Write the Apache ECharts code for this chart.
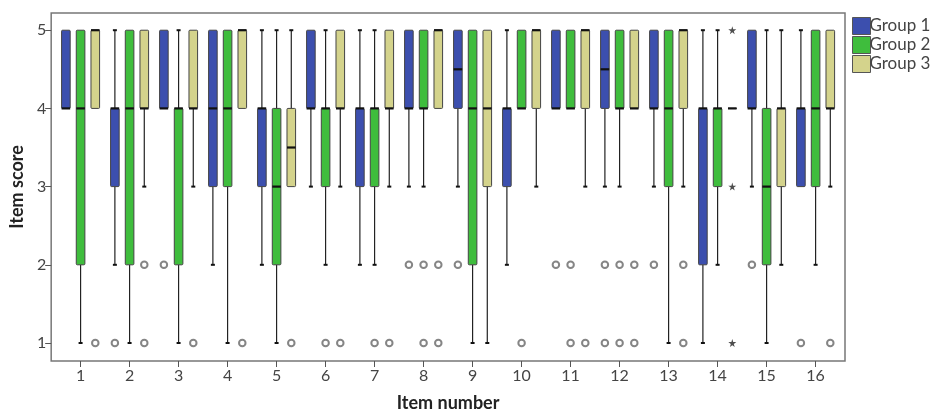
<!DOCTYPE html>
<html>
<head>
<meta charset="utf-8">
<script src="https://cdn.jsdelivr.net/npm/echarts@6/dist/echarts.min.js"></script>
<style>
  html, body { margin: 0; padding: 0; background: #fff; }
  #chart { width: 939px; height: 417px; }
</style>
</head>
<body>
<div id="chart"></div>
<script>
// item numbers on the x axis and score ticks on the y axis
const items = [1, 2, 3, 4, 5, 6, 7, 8, 9, 10, 11, 12, 13, 14, 15, 16]
const scoreTicks = [1, 2, 3, 4, 5]
const groupNames = ['Group 1', 'Group 2', 'Group 3']

// [min, Q1, median, Q3, max] for every item
const group1Box = [
  [4, 4, 4, 5, 5], [2, 3, 4, 4, 5], [4, 4, 4, 5, 5], [2, 3, 4, 5, 5],
  [2, 3, 4, 4, 5], [3, 4, 4, 5, 5], [2, 3, 4, 4, 5], [3, 4, 4, 5, 5],
  [3, 4, 4.5, 5, 5], [2, 3, 4, 4, 5], [4, 4, 4, 5, 5], [3, 4, 4.5, 5, 5],
  [3, 4, 4, 5, 5], [1, 2, 4, 4, 5], [3, 4, 4, 5, 5], [3, 3, 4, 4, 5]
]
const group2Box = [
  [1, 2, 4, 5, 5], [1, 2, 4, 5, 5], [1, 2, 4, 4, 5], [1, 3, 4, 5, 5],
  [1, 2, 3, 4, 5], [2, 3, 4, 4, 5], [2, 3, 4, 4, 5], [3, 4, 4, 5, 5],
  [1, 2, 4, 5, 5], [4, 4, 4, 5, 5], [4, 4, 4, 5, 5], [3, 4, 4, 5, 5],
  [1, 3, 4, 5, 5], [2, 3, 4, 4, 5], [1, 2, 3, 4, 5], [2, 3, 4, 5, 5]
]
const group3Box = [
  [4, 4, 5, 5, 5], [3, 4, 4, 5, 5], [3, 4, 4, 5, 5], [4, 4, 5, 5, 5],
  [3, 3, 3.5, 4, 5], [3, 4, 4, 5, 5], [3, 4, 4, 5, 5], [4, 4, 5, 5, 5],
  [1, 3, 4, 5, 5], [3, 4, 5, 5, 5], [3, 4, 5, 5, 5], [4, 4, 4, 5, 5],
  [3, 4, 5, 5, 5], [4, 4, 4, 4, 4], [2, 3, 4, 4, 5], [3, 4, 4, 5, 5]
]

// outliers [item, score]
const group1Out = [[2, 1], [3, 2], [8, 2], [9, 2], [11, 2], [12, 2], [12, 1], [13, 2], [15, 2], [16, 1]]
const group2Out = [[6, 1], [7, 1], [8, 2], [8, 1], [10, 1], [11, 2], [11, 1], [12, 2], [12, 1]]
const group3Out = [[1, 1], [2, 2], [2, 1], [3, 1], [4, 1], [5, 1], [6, 1], [7, 1], [8, 2], [8, 1],
  [11, 1], [12, 2], [12, 1], [13, 2], [13, 1], [16, 1]]
// extreme values (stars)
const group3Extreme = [[14, 5], [14, 3], [14, 1]]

const colors = ['#3c4fae', '#3fbd3d', '#d4d38c']
const offsets = [-0.3, 0, 0.3]
const font = 'Lato, "DejaVu Sans", sans-serif'
const starPath = 'path://M50,0 L61,35 L98,35 L68,57 L79,91 L50,70 L21,91 L32,57 L2,35 L39,35 Z'

function boxRender (off, color) {
  return function (params, api) {
    const x = api.value(0) + off
    const pMin = api.coord([x, api.value(1)])
    const pQ1 = api.coord([x, api.value(2)])
    const pMed = api.coord([x, api.value(3)])
    const pQ3 = api.coord([x, api.value(4)])
    const pMax = api.coord([x, api.value(5)])
    const cx = pMed[0]
    const half = 4.3
    const cap = 2
    const line = { stroke: '#222', lineWidth: 1.2 }
    const children = []
    if (pMin[1] > pQ1[1]) {
      children.push({ type: 'line', shape: { x1: cx, y1: pMin[1], x2: cx, y2: pQ1[1] }, style: line })
      children.push({ type: 'line', shape: { x1: cx - cap, y1: pMin[1], x2: cx + cap, y2: pMin[1] }, style: { stroke: '#111', lineWidth: 2 } })
    }
    if (pMax[1] < pQ3[1]) {
      children.push({ type: 'line', shape: { x1: cx, y1: pQ3[1], x2: cx, y2: pMax[1] }, style: line })
      children.push({ type: 'line', shape: { x1: cx - cap, y1: pMax[1], x2: cx + cap, y2: pMax[1] }, style: { stroke: '#111', lineWidth: 2 } })
    }
    children.push({
      type: 'rect',
      shape: { x: cx - half, y: pQ3[1], width: half * 2, height: pQ1[1] - pQ3[1], r: 1 },
      style: { fill: color, stroke: '#444', lineWidth: 1 }
    })
    children.push({
      type: 'line',
      shape: { x1: cx - half, y1: pMed[1], x2: cx + half, y2: pMed[1] },
      style: { stroke: '#111', lineWidth: 2.2 }
    })
    return { type: 'group', children: children }
  }
}

function boxData (arr) {
  return arr.map((b, i) => [items[i]].concat(b))
}
function outData (arr, off) {
  return arr.map(p => [p[0] + off, p[1]])
}

const boxes = [group1Box, group2Box, group3Box]
const outs = [group1Out, group2Out, group3Out]

const series = []
boxes.forEach((b, g) => {
  series.push({
    name: groupNames[g],
    type: 'custom',
    renderItem: boxRender(offsets[g], colors[g]),
    itemStyle: { color: colors[g] },
    encode: { x: 0, y: [1, 2, 3, 4, 5] },
    data: boxData(b),
    z: 2
  })
})
outs.forEach((o, g) => {
  series.push({
    name: 'out' + g,
    type: 'scatter',
    symbol: 'emptyCircle',
    symbolSize: 6.5,
    itemStyle: { color: '#666', borderWidth: 1 },
    data: outData(o, offsets[g]),
    z: 3
  })
})
series.push({
  name: 'extreme',
  type: 'scatter',
  symbol: starPath,
  symbolSize: 8,
  itemStyle: { color: '#222' },
  data: outData(group3Extreme, offsets[2]),
  z: 3
})

const chart = echarts.init(document.getElementById('chart'))
chart.setOption({
  animation: false,
  backgroundColor: '#fff',
  grid: { left: 51, right: 94, top: 13, bottom: 50, show: true, borderColor: '#777', borderWidth: 1.5 },
  legend: {
    data: groupNames,
    orient: 'vertical',
    left: 847,
    top: 12,
    itemWidth: 18,
    itemHeight: 17,
    itemGap: 1,
    icon: 'rect',
    selectedMode: false,
    itemStyle: { borderColor: '#555', borderWidth: 1 },
    textStyle: { fontFamily: font, fontSize: 17, color: '#444', padding: [0, 0, 0, -6] }
  },
  xAxis: {
    type: 'value',
    min: 0.4,
    max: 16.6,
    name: 'Item number',
    nameLocation: 'middle',
    nameGap: 33,
    nameTextStyle: { fontFamily: font, fontWeight: 'bold', fontSize: 18, color: '#222' },
    axisLine: { show: false },
    splitLine: { show: false },
    axisTick: { show: true, length: 6, customValues: items, lineStyle: { color: '#555' } },
    axisLabel: { customValues: items, fontFamily: font, fontSize: 16, color: '#444', margin: 7 }
  },
  yAxis: {
    type: 'value',
    min: 0.77,
    max: 5.22,
    name: 'Item score',
    nameLocation: 'middle',
    nameGap: 25,
    nameTextStyle: { fontFamily: font, fontWeight: 'bold', fontSize: 18, color: '#222' },
    axisLine: { show: false },
    splitLine: { show: false },
    axisTick: { show: true, length: 6, customValues: scoreTicks, lineStyle: { color: '#555' } },
    axisLabel: { customValues: scoreTicks, fontFamily: font, fontSize: 16, color: '#444', margin: 5 }
  },
  series: series
})
</script>
</body>
</html>
